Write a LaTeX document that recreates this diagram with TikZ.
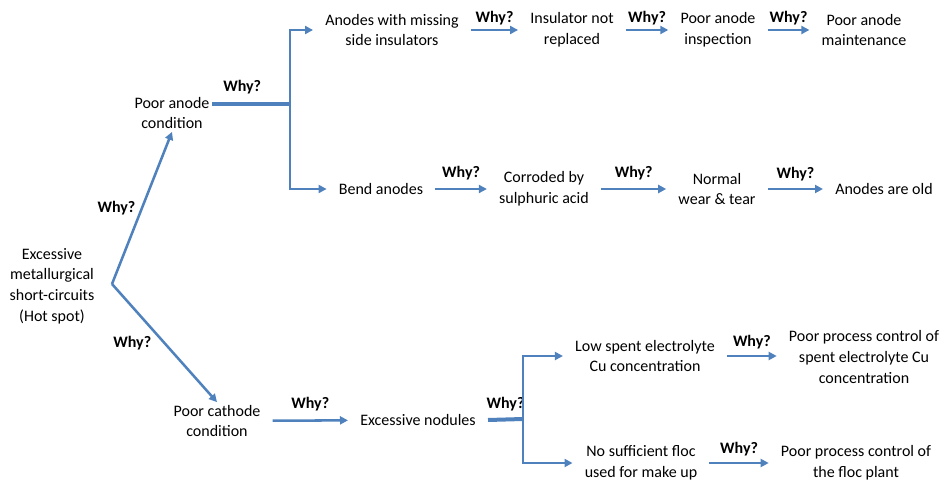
\documentclass[tikz,border=0pt]{standalone}
\usepackage{fontspec}
\setmainfont{Carlito}
\usetikzlibrary{arrows.meta}
\definecolor{azul}{RGB}{79,129,189}
\begin{document}
\begin{tikzpicture}[x=0.75pt, y=-0.75pt,
        caja/.style={align=center, font=\fontsize{12}{15.5}\selectfont, inner xsep=9pt, inner ysep=2pt},
        porque/.style={text=black, font=\fontsize{12}{14}\selectfont\bfseries, inner sep=1pt},
        flecha/.style={azul, line width=1.9pt, -{Triangle[length=6pt,width=6pt]}},
        rama/.style={azul, line width=3pt}]
    \useasboundingbox (0,0) rectangle (941,481);

    % Problema principal y bifurcacion
    \node[caja] (raiz) at (52,286) {Excessive\\metallurgical\\short-circuits\\(Hot spot)};
    \coordinate (horq) at (112,284);
    \node[caja] (anodo) at (172,113) {Poor anode\\condition};
    \node[caja] (catodo) at (217,421) {Poor cathode\\condition};
    \draw[flecha] (horq) -- (anodo.south) node[porque, midway, left=3pt] {Why?};
    \draw[flecha] (horq) -- (catodo.north) node[porque, midway, left=8pt] {Why?};

    % Rama del anodo
    \coordinate (j1) at (290,104);
    \draw[rama, shorten <=-7pt] (j1 -| anodo.east) -- (j1) node[porque, pos=0.3, above=5pt] {Why?};
    \node[caja] (faltan) at (392,30) {Anodes with missing\\side insulators};
    \node[caja] (noreemp) at (572,30) {Insulator not\\replaced};
    \node[caja] (inspec) at (718,30) {Poor anode\\inspection};
    \node[caja] (manten) at (864,30) {Poor anode\\maintenance};
    \draw[flecha] (j1) |- (faltan.west);
    \draw[flecha] (faltan) -- (noreemp) node[porque, midway, above=2pt] {Why?};
    \draw[flecha] (noreemp) -- (inspec) node[porque, midway, above=2pt] {Why?};
    \draw[flecha] (inspec) -- (manten) node[porque, midway, above=2pt] {Why?};

    \node[caja] (doblado) at (381,189) {Bend anodes};
    \node[caja] (corroido) at (544,189) {Corroded by\\sulphuric acid};
    \node[caja] (desgaste) at (717,189) {Normal\\wear \& tear};
    \node[caja] (viejos) at (884,189) {Anodes are old};
    \draw[flecha] (j1) |- (doblado.west);
    \draw[flecha] (doblado) -- (corroido) node[porque, midway, above=5pt] {Why?};
    \draw[flecha] (corroido) -- (desgaste) node[porque, midway, above=5pt] {Why?};
    \draw[flecha] (desgaste) -- (viejos) node[porque, midway, above=4pt] {Why?};

    % Rama del catodo
    \node[caja] (nodulos) at (418,420) {Excessive nodules};
    \draw[flecha] (catodo) -- (nodulos) node[porque, midway, above=5pt] {Why?};
    \coordinate (j2) at (523,419);
    \draw[rama] (nodulos.east) -- (j2) node[porque, midway, above=4pt] {Why?};
    \node[caja] (bajocu) at (645,356) {Low spent electrolyte\\Cu concentration};
    \node[caja] (floc) at (641,463) {No sufficient floc\\used for make up};
    \draw[flecha] (j2) |- (bajocu.west);
    \draw[flecha] (j2) |- (floc.west);
    \node[caja] (control1) at (864,357) {Poor process control of\\spent electrolyte Cu\\concentration};
    \node[caja] (control2) at (856,463) {Poor process control of\\the floc plant};
    \draw[flecha] (bajocu) -- (control1.west |- bajocu) node[porque, midway, above=3pt] {Why?};
    \draw[flecha] (floc) -- (control2.west) node[porque, midway, above=3pt] {Why?};
\end{tikzpicture}
\end{document}
